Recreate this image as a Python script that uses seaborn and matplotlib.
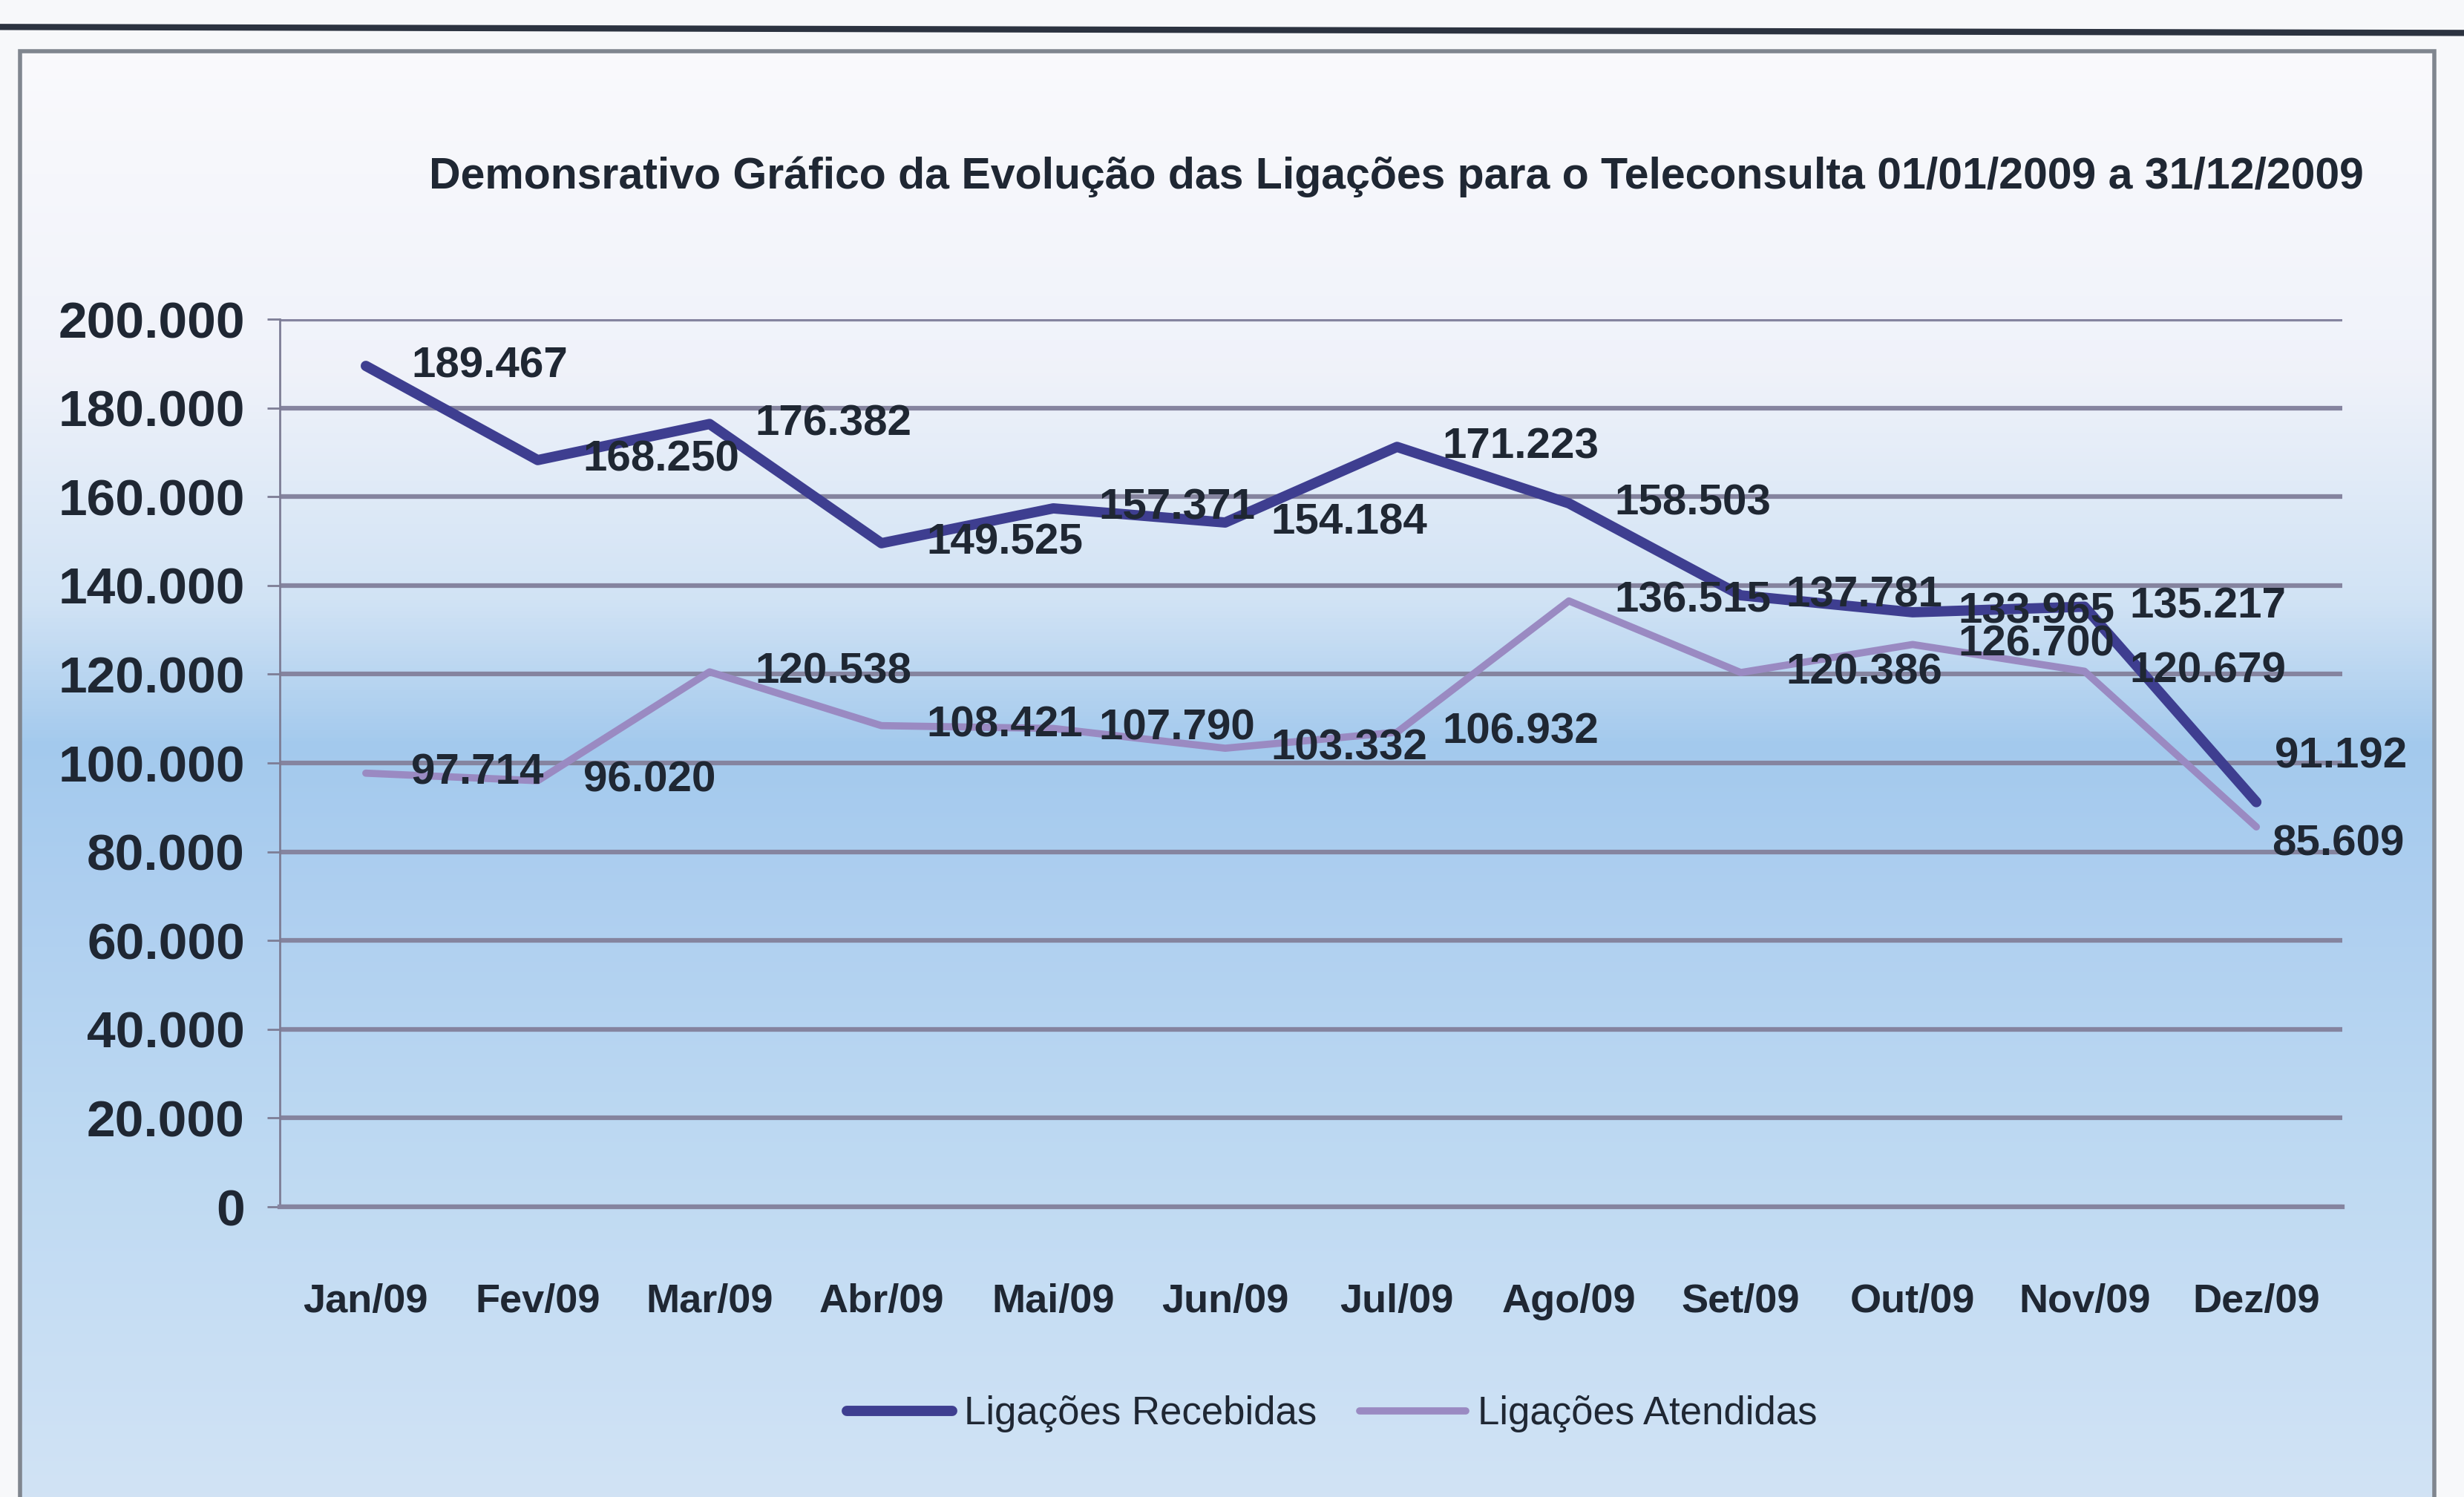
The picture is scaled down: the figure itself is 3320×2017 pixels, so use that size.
import numpy as np
import pandas as pd
import matplotlib
matplotlib.use("Agg")
import matplotlib.pyplot as plt
import seaborn as sns
from matplotlib.ticker import FuncFormatter, FixedLocator

meses = ['Jan/09', 'Fev/09', 'Mar/09', 'Abr/09', 'Mai/09', 'Jun/09',
         'Jul/09', 'Ago/09', 'Set/09', 'Out/09', 'Nov/09', 'Dez/09']
recebidas = [189467, 168250, 176382, 149525, 157371, 154184,
             171223, 158503, 137781, 133965, 135217, 91192]
atendidas = [97714, 96020, 120538, 108421, 107790, 103332,
             106932, 136515, 120386, 126700, 120679, 85609]
y_ticks = [0, 20000, 40000, 60000, 80000, 100000, 120000, 140000, 160000, 180000, 200000]

titulo = 'Demonsrativo Gráfico da Evolução das Ligações para o Teleconsulta 01/01/2009 a 31/12/2009'

sns.set_theme(style='white')
plt.rcParams['font.family'] = ['Liberation Sans', 'DejaVu Sans']

df = pd.DataFrame({'mes': meses * 2,
                   'valor': recebidas + atendidas,
                   'serie': ['Ligações Recebidas'] * 12 + ['Ligações Atendidas'] * 12})
df['pos'] = list(range(12)) * 2

cor_txt = '#1f2733'
cor_grid = '#85849f'

# label nudges (points) where the labels were moved by hand in the original
nudge = {(0, 11): (18, 44), (1, 11): (15, -17)}

fig = plt.figure(figsize=(33.2, 20.17), dpi=100)
fig.patch.set_facecolor('#f7f8fa')

# background gradient inside the frame (white top -> blue band -> light blue bottom)
bg = fig.add_axes([0.008, 0.0, 0.98, 0.966], zorder=-10)
stops_y = [0.0, 0.22, 0.38, 0.48, 0.58, 0.75, 1.0]
stops_c = np.array([[0.98, 0.98, 0.99], [0.94, 0.95, 0.98], [0.82, 0.89, 0.96],
                    [0.64, 0.79, 0.93], [0.68, 0.81, 0.94], [0.74, 0.85, 0.95],
                    [0.82, 0.89, 0.96]])
yy = np.linspace(0, 1, 400)
grad = np.stack([np.interp(yy, stops_y, stops_c[:, k]) for k in range(3)], axis=-1)
grad = np.repeat(grad[:, None, :], 10, axis=1)
bg.imshow(grad, aspect='auto', extent=[0, 1, 1, 0])
bg.set_xlim(0, 1)
bg.set_ylim(1, 0)
bg.axis('off')

# frame and scanned top line
fig.add_artist(plt.Line2D([0.0, 1.0], [0.982, 0.978], color='#2c3340', lw=6))
fig.add_artist(plt.Rectangle((0.008, -0.01), 0.98, 0.976, fill=False,
                             edgecolor='#80868f', lw=4))

ax = fig.add_axes([0.1136, 0.1938, 0.837, 0.593])
ax.set_facecolor('none')

sns.lineplot(data=df, x='pos', y='valor', hue='serie', ax=ax,
             palette={'Ligações Recebidas': '#3e3e90', 'Ligações Atendidas': '#9a8ac2'},
             legend=False, zorder=3)
ax.lines[0].set_linewidth(10)
ax.lines[1].set_linewidth(7)
ax.lines[1].set_zorder(2)

for k, serie in enumerate((recebidas, atendidas)):
    for i, v in enumerate(serie):
        ax.annotate(f'{v:,}'.replace(',', '.'), (i, v), xytext=nudge.get((k, i), (44, 0)),
                    textcoords='offset points', ha='left', va='center',
                    fontsize=42, fontweight='bold', color=cor_txt, zorder=5,
                    annotation_clip=False)

ax.set_xlim(-0.5, 11.5)
ax.set_ylim(0, 200000)
ax.yaxis.set_major_locator(FixedLocator(y_ticks))
ax.yaxis.set_major_formatter(FuncFormatter(lambda v, p: f'{int(v):,}'.replace(',', '.')))
ax.grid(axis='y', color=cor_grid, lw=4.5, zorder=0)
ax.set_axisbelow(True)

ax.set_xticks(range(12))
ax.set_xticklabels(meses)
ax.set_xticks(np.arange(-0.5, 12, 1), minor=True)
ax.tick_params(axis='x', which='major', length=0, pad=74, labelsize=39, labelcolor=cor_txt)
ax.tick_params(axis='x', which='minor', length=14, width=2, color='#7d7d95', direction='out')
ax.tick_params(axis='y', which='major', length=12, width=2, color='#7d7d95', pad=22,
               labelsize=50, labelcolor=cor_txt, left=True)
for lab in ax.get_xticklabels() + ax.get_yticklabels():
    lab.set_fontweight('bold')
ax.set_xlabel('')
ax.set_ylabel('')
for s in ['top', 'right']:
    ax.spines[s].set_visible(False)
ax.spines['left'].set_color('#7d7d95')
ax.spines['left'].set_linewidth(2)
ax.spines['bottom'].set_color(cor_grid)
ax.spines['bottom'].set_linewidth(4.5)

fig.text(0.5667, 0.882, titulo, ha='center', va='center', fontsize=42.5,
         fontweight='bold', color=cor_txt)

handles = [plt.Line2D([], [], color='#3e3e90', lw=10),
           plt.Line2D([], [], color='#9a8ac2', lw=7)]
fig.legend(handles, ['Ligações Recebidas', 'Ligações Atendidas'], loc='center',
           bbox_to_anchor=(0.5405, 0.0555), ncol=2, frameon=False, fontsize=38,
           handlelength=2.7, handletextpad=0.3, columnspacing=1.1,
           labelcolor=cor_txt)

fig.savefig('out.png', dpi=100)
